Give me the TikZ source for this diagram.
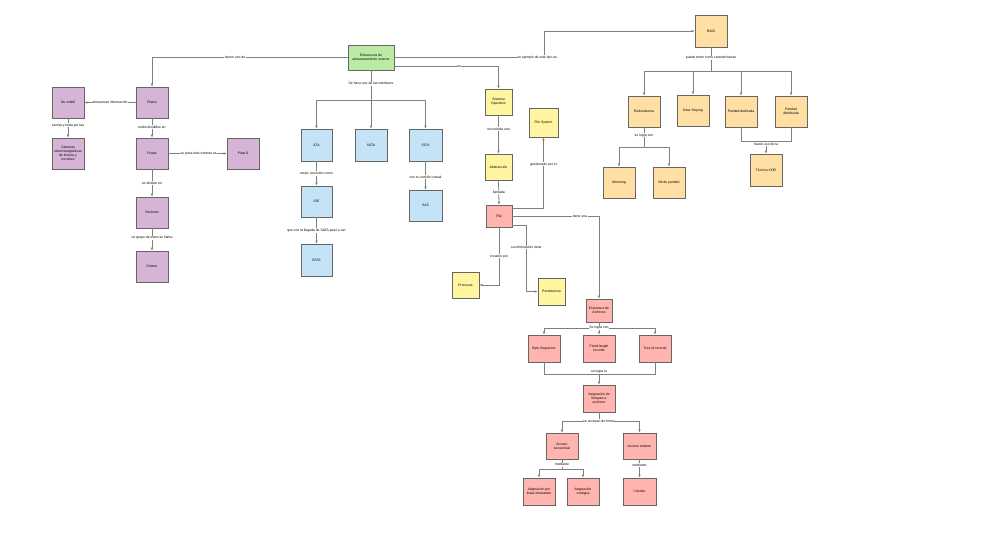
\documentclass[tikz,border=0pt]{standalone}
\usepackage{fontspec}
\setmainfont{Liberation Sans}
\usetikzlibrary{arrows.meta,positioning,calc}
\definecolor{Edge}{HTML}{7F7F7F}
\definecolor{Frame}{HTML}{666666}
\definecolor{Tip}{HTML}{222222}
\definecolor{PaleGreen}{HTML}{B9EBA4}
\definecolor{PalePurple}{HTML}{D6B4D6}
\definecolor{PaleBlue}{HTML}{C4E3F7}
\definecolor{PaleYellow}{HTML}{FFF4A0}
\definecolor{PaleOrange}{HTML}{FFDFA3}
\definecolor{PaleRed}{HTML}{FFB4B0}
\newcommand{\tinyfont}{\fontsize{3.4}{4.1}\selectfont}
\tikzset{
  box/.style={draw=Frame,line width=.7pt,minimum width=32pt,minimum height=31pt,inner sep=1pt,align=center,font=\tinyfont},
  root/.style={box,fill=PaleGreen,minimum width=46pt,minimum height=25pt},
  disk/.style={box,fill=PalePurple},
  iface/.style={box,fill=PaleBlue},
  osbox/.style={box,fill=PaleYellow},
  raidbox/.style={box,fill=PaleOrange},
  filebox/.style={box,fill=PaleRed},
  link/.style={-{Latex[length=3pt,width=2.6pt]},draw=Edge,line width=.8pt,color=Edge},
  plain/.style={draw=Edge,line width=.8pt},
  lbl/.style={fill=white,inner sep=.6pt,font=\tinyfont,text=black},
}

\begin{document}
\begin{tikzpicture}[x=1pt,y=-1pt]
    \useasboundingbox (0,0) rectangle (998,539);

    \node[root] (est) at (371,57.5) {Estructuras de\\almacenamiento externo};

    \node[disk] (platos) at (152,102.5) {Platos};
    \node[disk] (novol) at (68,102.5) {No volátil};
    \node[disk] (cabezas) at (68,153.5) {Cabezas\\electromagnéticas\\de lectura y\\escritura};
    \node[disk] (pistas) at (152,153.5) {Pistas};
    \node[disk] (pista0) at (243,153.5) {Pista 0};
    \node[disk] (sectores) at (152,212.5) {Sectores};
    \node[disk] (cluster) at (152,266.5) {Cluster};

    \node[iface,minimum width=31pt,minimum height=32pt] (ata) at (316.5,145) {ATA};
    \node[iface,minimum height=32pt] (sata) at (371,145) {SATA};
    \node[iface,minimum width=33pt,minimum height=32pt] (scsi) at (425.5,145) {SCSI};
    \node[iface,minimum width=31pt] (ide) at (316.5,201.5) {IDE};
    \node[iface,minimum width=33pt] (sas) at (425.5,205.5) {SAS};
    \node[iface,minimum width=31pt,minimum height=32pt] (pata) at (316.5,260) {PATA};

    \node[osbox,minimum width=27pt,minimum height=26pt] (so) at (498.5,102) {Sistema\\Operativo};
    \node[osbox,minimum width=29pt,minimum height=29pt] (fs) at (543.5,122.5) {File System};
    \node[osbox,minimum width=27pt,minimum height=26pt] (abst) at (498.5,167) {Abstracción};
    \node[filebox,minimum width=26pt,minimum height=22pt] (file) at (499,216) {File};
    \node[osbox,minimum width=27pt,minimum height=26pt] (proc) at (465.5,285) {Procesos};
    \node[osbox,minimum width=27pt,minimum height=27pt] (pers) at (551.5,291.5) {Persistencia};

    \node[raidbox,minimum height=32pt] (raid) at (711,31) {RAID};
    \node[raidbox] (red) at (644,111.5) {Redundancia};
    \node[raidbox] (ds) at (693,110.5) {Data Striping};
    \node[raidbox] (pded) at (741,111.5) {Paridad dedicada};
    \node[raidbox] (pdist) at (791,111.5) {Paridad\\distribuida};
    \node[raidbox] (mirr) at (619,182.5) {Mirroring};
    \node[raidbox] (bitp) at (669,182.5) {Bit de paridad};
    \node[raidbox,minimum height=32pt] (xor) at (766,170) {Técnica XOR};

    \node[filebox,minimum width=26pt,minimum height=23pt] (ea) at (599,310.5) {Estructura de\\Archivos};
    \node[filebox,minimum height=27pt] (byte) at (544,348.5) {Byte Sequence};
    \node[filebox,minimum height=27pt] (fixed) at (599,348.5) {Fixed length\\records};
    \node[filebox,minimum height=27pt] (tree) at (655,348.5) {Tree of records};
    \node[filebox,minimum height=27pt] (asig) at (599,398.5) {Asignación de\\bloques a\\archivos};
    \node[filebox,minimum height=26pt] (acseq) at (562,446) {Acceso\\secuencial};
    \node[filebox,minimum width=33pt,minimum height=26pt] (acran) at (639.5,446) {Acceso random};
    \node[filebox,minimum height=27pt] (listas) at (539,491.5) {Asignación por\\listas enlazadas};
    \node[filebox,minimum height=27pt] (contig) at (583,491.5) {Asignación\\contigua};
    \node[filebox,minimum width=33pt,minimum height=27pt] (inodes) at (639.5,491.5) {i-Nodes};

    \coordinate (raidturn) at (544,31);
    \coordinate (ifx) at (371,100);
    \coordinate (raidx) at (711,71);
    \coordinate (redx) at (644,147);
    \coordinate (xorx) at (766,141);
    \coordinate (eax) at (599,328);
    \coordinate (asx) at (599,374);
    \coordinate (acx) at (599,421);
    \coordinate (secx) at (562,469);

    \draw[link] (est.west) -| node[lbl,pos=.288]{hacen uso de} (platos.north);
    \draw[link] (est.east) -| node[lbl,pos=.477]{un ejemplo de este tipo es} (raidturn) -- (raid.west);
    \draw[link] ([yshift=-9pt]est.east) -| node[lbl,pos=.31]{es} (so.north);
    \draw[plain] (est.south) -- node[lbl,pos=.45]{Se hace uso de las interfaces} (ifx);
    \foreach \n in {ata,sata,scsi}
      \draw[link] (ifx) -| (\n.north);

    \draw[link] (platos.west) -- node[lbl]{almacenan información} (novol.east);
    \draw[link] (novol.south) -- node[lbl,pos=.35]{escrita y leída por las} (cabezas.north);
    \draw[link] (platos.south) -- node[lbl,pos=.45]{están divididos en} (pistas.north);
    \draw[link] (pistas.east) -- node[lbl,pos=.52]{su pista más externa es} (pista0.west);
    \draw[link] (pistas.south) -- node[lbl]{se dividen en} (sectores.north);
    \draw[link] (sectores.south) -- node[lbl,pos=.43]{un grupo de estos se llama} (cluster.north);

    \draw[link] (ata.south) -- node[lbl]{mejor conocido como} (ide.north);
    \draw[link] (ide.south) -- node[lbl]{que con la llegada de SATA pasó a ser} (pata.north);
    \draw[link] (scsi.south) -- node[lbl,pos=.55]{con su versión virtual} (sas.north);

    \draw[link] (so.south) -- node[lbl,pos=.36]{nos brinda una} (abst.north);
    \draw[link] (abst.south) -- node[lbl]{llamada} (file.north);
    \draw[link] ([yshift=8pt]file.east) -| node[lbl,pos=.81]{gestionado por el} (fs.south);
    \draw[link] (file.east) -| node[lbl,pos=.39]{tiene una} (ea.north);
    \draw[link] ([yshift=-9pt]file.east) -- ++(14,0) |- node[lbl,pos=.17]{su información tiene} (pers.west);
    \draw[link] (file.south) |- node[lbl,pos=.25]{creados por} (proc.east);

    \draw[plain] (raid.south) -- node[lbl,pos=.45]{puede tener como características} (raidx);
    \foreach \n in {red,ds,pded,pdist}
      \draw[link] (raidx) -| (\n.north);
    \draw[plain] (red.south) -- node[lbl,pos=.4]{se logra con} (redx);
    \foreach \n in {mirr,bitp}
      \draw[link] (redx) -| (\n.north);
    \draw[plain] (pded.south) |- (xorx);
    \draw[plain] (pdist.south) |- (xorx);
    \draw[link] (xorx) -- node[lbl,pos=.25]{hacen uso de la} (xor.north);

    \draw[plain] (ea.south) -- (eax);
    \foreach \n in {byte,fixed,tree}
      \draw[link] (eax) -| (\n.north);
    \node[lbl] at (eax) {Se logra con};
    \draw[plain] (byte.south) |- (asx);
    \draw[plain] (tree.south) |- (asx);
    \draw[link] (asx) -- (asig.north);
    \node[lbl,above=0pt] at (asx) {se logra la};
    \draw[plain] (asig.south) -- (acx);
    \foreach \n in {acseq,acran}
      \draw[link] (acx) -| (\n.north);
    \node[lbl] at (acx) {se accesan de forma};
    \draw[plain] (acseq.south) -- node[lbl,pos=.55]{mediante} (secx);
    \foreach \n in {listas,contig}
      \draw[link] (secx) -| (\n.north);
    \draw[link] (acran.south) -- node[lbl,pos=.32]{mediante} (inodes.north);
  \end{tikzpicture}
\end{document}
